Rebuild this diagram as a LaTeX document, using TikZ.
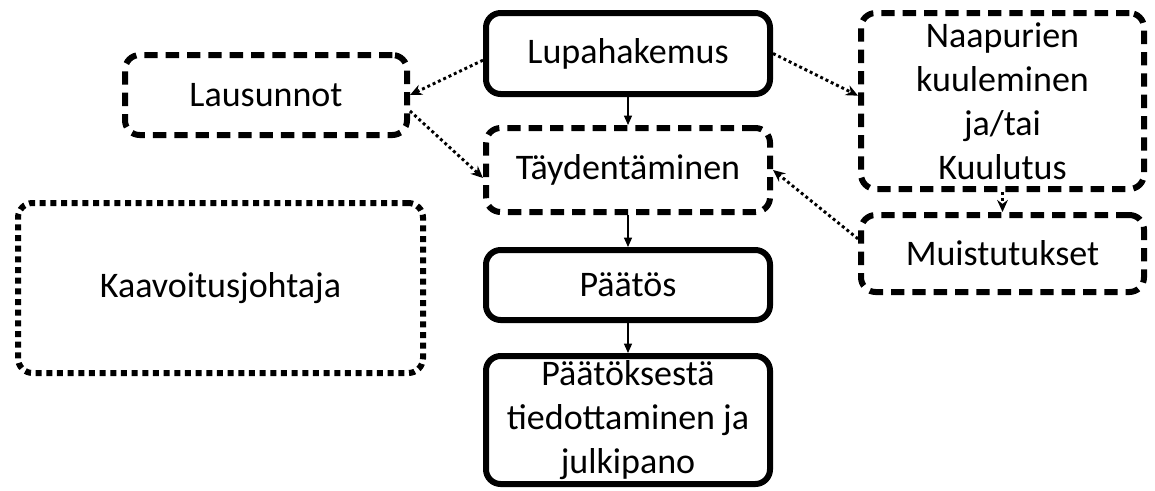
\documentclass[tikz,border=0pt]{standalone}
\usepackage{fontspec}
\setmainfont{Carlito}
\usetikzlibrary{arrows.meta}
\begin{document}
\begin{tikzpicture}[x=0.75pt,y=-0.75pt,
  box/.style={draw, rounded corners=11pt, line width=4.5pt, align=center,
    font=\fontsize{27}{33}\selectfont, inner sep=0pt, minimum width=213pt},
  solidbox/.style={box},
  dashbox/.style={box, dash pattern=on 10pt off 6pt},
  dotbox/.style={box, dash pattern=on 4.5pt off 3.5pt},
  flow/.style={-{Triangle[length=7pt,width=6pt]}, line width=0.9pt},
  link/.style={-{Stealth[length=9pt,width=8pt]}, line width=2.2pt,
    dash pattern=on 2.2pt off 2.2pt},
]
\useasboundingbox (0,0) rectangle (1155,490);

% main process column
\node[solidbox, minimum height=60.75pt] (lupa) at (628,53.5) {Lupahakemus};
\node[dashbox,  minimum height=63pt]    (tayd) at (628,170) {Täydentäminen};
\node[solidbox, minimum height=52.5pt]  (paat) at (628,285) {Päätös};
\node[solidbox, minimum height=96pt]    (tied) at (628,420)
  {Päätöksestä\\tiedottaminen ja\\julkipano};

% side boxes
\node[dashbox, minimum width=211.5pt, minimum height=60pt] (laus) at (266,95) {Lausunnot};
\node[dashbox, minimum width=212.25pt, minimum height=132pt] (naap) at (1002.5,101)
  {Naapurien\\kuuleminen\\ja/tai\\Kuulutus};
\node[dashbox, minimum width=212.25pt, minimum height=57.75pt] (muis) at (1002.5,253.5) {Muistutukset};
\node[dotbox, minimum width=303.75pt, minimum height=127.5pt] (kaav) at (220.5,288) {Kaavoitusjohtaja};

% flow of the main process
\draw[flow] (lupa) -- (tayd);
\draw[flow] (tayd) -- (paat);
\draw[flow] (paat) -- (tied);

% consultation links
\draw[link] ([yshift=-5pt]lupa.west) -- (laus.east);
\draw[link] ([yshift=-12pt]laus.east) -- ([yshift=-6pt]tayd.west);
\draw[link] (lupa.east) -- ([yshift=4pt]naap.west);
\draw[link] (naap.south) -- (muis.north);
\draw[link] ([yshift=11pt]muis.west) -- (tayd.east);
\end{tikzpicture}
\end{document}
